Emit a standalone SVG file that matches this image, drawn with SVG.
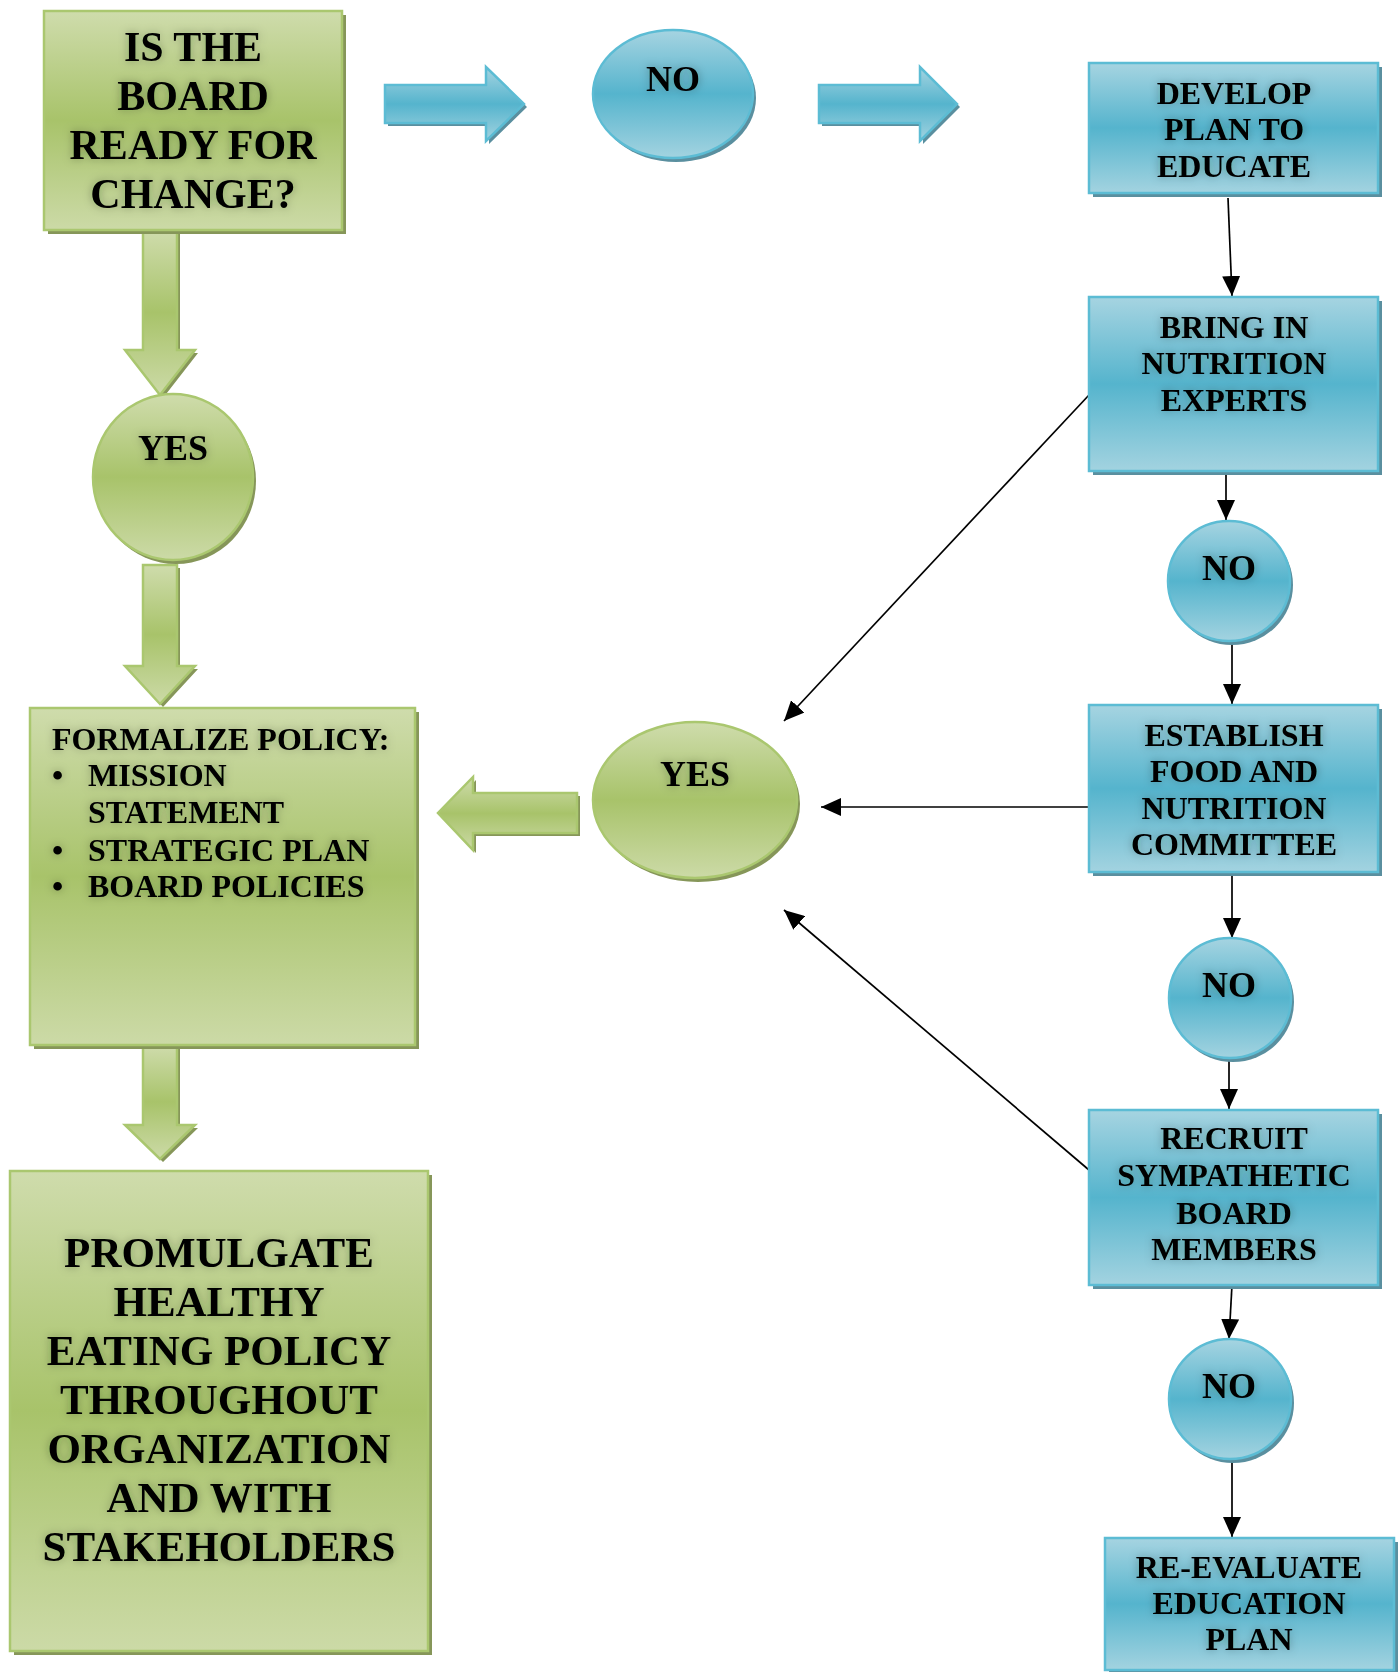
<svg xmlns="http://www.w3.org/2000/svg" width="1399" height="1672" viewBox="0 0 1399 1672">
<defs>
<linearGradient id="gG" x1="0" y1="0" x2="0" y2="1">
<stop offset="0" stop-color="#cfdcac"/><stop offset="0.5" stop-color="#a8c36a"/><stop offset="1" stop-color="#ccdaa7"/>
</linearGradient>
<linearGradient id="bG" x1="0" y1="0" x2="0" y2="1">
<stop offset="0" stop-color="#a6d4e1"/><stop offset="0.5" stop-color="#55b4cd"/><stop offset="1" stop-color="#a3d3e0"/>
</linearGradient>
<filter id="halo" x="-20%" y="-40%" width="140%" height="180%">
<feGaussianBlur in="SourceAlpha" stdDeviation="5" result="b"/>
<feFlood flood-color="#1d2a10" flood-opacity="0.32"/>
<feComposite in2="b" operator="in" result="s"/>
<feMerge><feMergeNode in="s"/><feMergeNode in="SourceGraphic"/></feMerge>
</filter>
<marker id="ah" markerUnits="userSpaceOnUse" markerWidth="21" markerHeight="18" refX="20" refY="9" orient="auto">
<path d="M0,0 L20,9 L0,18 Z" fill="#000"/>
</marker>
<style>
.g{fill:url(#gG);stroke:#aac76f;stroke-width:2.5}
.b{fill:url(#bG);stroke:#5cbcd4;stroke-width:2.5}
.gs{fill:#869659}
.bs{fill:#5a8f9f}
.t{font-family:"Liberation Serif","Times New Roman",serif;font-weight:bold;fill:#000;text-anchor:middle}
.tl{font-family:"Liberation Serif","Times New Roman",serif;font-weight:bold;fill:#000}
.ln{stroke:#000;stroke-width:1.7;fill:none;marker-end:url(#ah)}
</style>
</defs>
<rect width="1399" height="1672" fill="#fff"/>

<g id="block-arrows">
<path class="bs" d="M388,88 H489 V70 L527,107 L489,144 V126 H388 Z"/>
<path class="b" d="M385,85 H486 V67 L524,104 L486,141 V123 H385 Z"/>
<path class="bs" d="M822,88 H923 V70 L960,107 L923,144 V126 H822 Z"/>
<path class="b" d="M819,85 H920 V67 L957,104 L920,141 V123 H819 Z"/>
<path class="gs" d="M146,233 H180 V353 H198 L163,398 L128,353 H146 Z"/>
<path class="g" d="M143,230 H177 V350 H195 L160,395 L125,350 H143 Z"/>
<path class="gs" d="M146,568 H180 V669 H198 L163,707 L128,669 H146 Z"/>
<path class="g" d="M143,565 H177 V666 H195 L160,704 L125,666 H143 Z"/>
<path class="gs" d="M146,1048 H180 V1128 H198 L163,1162 L128,1128 H146 Z"/>
<path class="g" d="M143,1045 H177 V1125 H195 L160,1159 L125,1125 H143 Z"/>
<path class="gs" d="M580,796 H476 V780 L441,816 L476,853 V836 H580 Z"/>
<path class="g" d="M577,793 H473 V777 L438,813 L473,850 V833 H577 Z"/>
</g>

<g id="connectors">
<path class="ln" d="M1228,198 L1232,296"/>
<path class="ln" d="M1226,471 L1226,520"/>
<path class="ln" d="M1232,641 L1232,704"/>
<path class="ln" d="M1089,807 L821,807"/>
<path class="ln" d="M1089,395 L784,721"/>
<path class="ln" d="M1089,1170 L784,910"/>
<path class="ln" d="M1232,872 L1232,938"/>
<path class="ln" d="M1229,1058 L1229,1109"/>
<path class="ln" d="M1232,1285 L1229,1339"/>
<path class="ln" d="M1232,1459 L1232,1537"/>
</g>

<g id="n-ready">
<rect class="gs" x="48" y="15" width="298" height="219"/>
<rect class="g" x="44" y="11" width="298" height="219"/>
<g filter="url(#halo)" class="t" font-size="42">
<text x="193" y="61">IS THE</text>
<text x="193" y="110">BOARD</text>
<text x="193" y="159">READY FOR</text>
<text x="193" y="208">CHANGE?</text>
</g>
</g>

<g id="n-no1">
<ellipse class="bs" cx="676" cy="98" rx="80" ry="64"/>
<ellipse class="b" cx="673" cy="94" rx="80" ry="64"/>
<text filter="url(#halo)" class="t" font-size="36" x="673" y="91">NO</text>
</g>

<g id="n-develop">
<rect class="bs" x="1093" y="67" width="289" height="130"/>
<rect class="b" x="1089" y="63" width="289" height="130"/>
<g filter="url(#halo)" class="t" font-size="32">
<text x="1234" y="104">DEVELOP</text>
<text x="1234" y="140">PLAN TO</text>
<text x="1234" y="177">EDUCATE</text>
</g>
</g>

<g id="n-bring">
<rect class="bs" x="1093" y="301" width="289" height="174"/>
<rect class="b" x="1089" y="297" width="289" height="174"/>
<g filter="url(#halo)" class="t" font-size="32">
<text x="1234" y="338">BRING IN</text>
<text x="1234" y="374">NUTRITION</text>
<text x="1234" y="411">EXPERTS</text>
</g>
</g>

<g id="n-no2">
<ellipse class="bs" cx="1232" cy="585" rx="61" ry="60"/>
<ellipse class="b" cx="1229" cy="581" rx="61" ry="60"/>
<text filter="url(#halo)" class="t" font-size="36" x="1229" y="580">NO</text>
</g>

<g id="n-establish">
<rect class="bs" x="1093" y="709" width="289" height="167"/>
<rect class="b" x="1089" y="705" width="289" height="167"/>
<g filter="url(#halo)" class="t" font-size="32">
<text x="1234" y="746">ESTABLISH</text>
<text x="1234" y="782">FOOD AND</text>
<text x="1234" y="819">NUTRITION</text>
<text x="1234" y="855">COMMITTEE</text>
</g>
</g>

<g id="n-no3">
<ellipse class="bs" cx="1233" cy="1002" rx="61" ry="60"/>
<ellipse class="b" cx="1230" cy="998" rx="61" ry="60"/>
<text filter="url(#halo)" class="t" font-size="36" x="1229" y="997">NO</text>
</g>

<g id="n-recruit">
<rect class="bs" x="1093" y="1114" width="289" height="175"/>
<rect class="b" x="1089" y="1110" width="289" height="175"/>
<g filter="url(#halo)" class="t" font-size="32">
<text x="1234" y="1149">RECRUIT</text>
<text x="1234" y="1186">SYMPATHETIC</text>
<text x="1234" y="1224">BOARD</text>
<text x="1234" y="1260">MEMBERS</text>
</g>
</g>

<g id="n-no4">
<ellipse class="bs" cx="1233" cy="1403" rx="61" ry="60"/>
<ellipse class="b" cx="1230" cy="1399" rx="61" ry="60"/>
<text filter="url(#halo)" class="t" font-size="36" x="1229" y="1398">NO</text>
</g>

<g id="n-reevaluate">
<rect class="bs" x="1109" y="1542" width="289" height="132"/>
<rect class="b" x="1105" y="1538" width="289" height="132"/>
<g filter="url(#halo)" class="t" font-size="32">
<text x="1249" y="1578">RE-EVALUATE</text>
<text x="1249" y="1614">EDUCATION</text>
<text x="1249" y="1650">PLAN</text>
</g>
</g>

<g id="n-yes2">
<ellipse class="gs" cx="698" cy="804" rx="102" ry="78"/>
<ellipse class="g" cx="695" cy="800" rx="102" ry="78"/>
<text filter="url(#halo)" class="t" font-size="36" x="695" y="786">YES</text>
</g>

<g id="n-yes1">
<ellipse class="gs" cx="176" cy="481" rx="80" ry="83"/>
<ellipse class="g" cx="173" cy="477" rx="80" ry="83"/>
<text filter="url(#halo)" class="t" font-size="36" x="173" y="460">YES</text>
</g>

<g id="n-formalize">
<rect class="gs" x="34" y="712" width="385" height="337"/>
<rect class="g" x="30" y="708" width="385" height="337"/>
<g filter="url(#halo)" class="tl" font-size="32">
<text x="52" y="750">FORMALIZE POLICY:</text>
<text x="52" y="786">•</text><text x="88" y="786">MISSION</text>
<text x="88" y="823">STATEMENT</text>
<text x="52" y="861">•</text><text x="88" y="861">STRATEGIC PLAN</text>
<text x="52" y="897">•</text><text x="88" y="897">BOARD POLICIES</text>
</g>
</g>

<g id="n-promulgate">
<rect class="gs" x="14" y="1175" width="418" height="480"/>
<rect class="g" x="10" y="1171" width="418" height="480"/>
<g filter="url(#halo)" class="t" font-size="43">
<text x="219" y="1267">PROMULGATE</text>
<text x="219" y="1316">HEALTHY</text>
<text x="219" y="1365">EATING POLICY</text>
<text x="219" y="1414">THROUGHOUT</text>
<text x="219" y="1463">ORGANIZATION</text>
<text x="219" y="1512">AND WITH</text>
<text x="219" y="1561">STAKEHOLDERS</text>
</g>
</g>
</svg>
